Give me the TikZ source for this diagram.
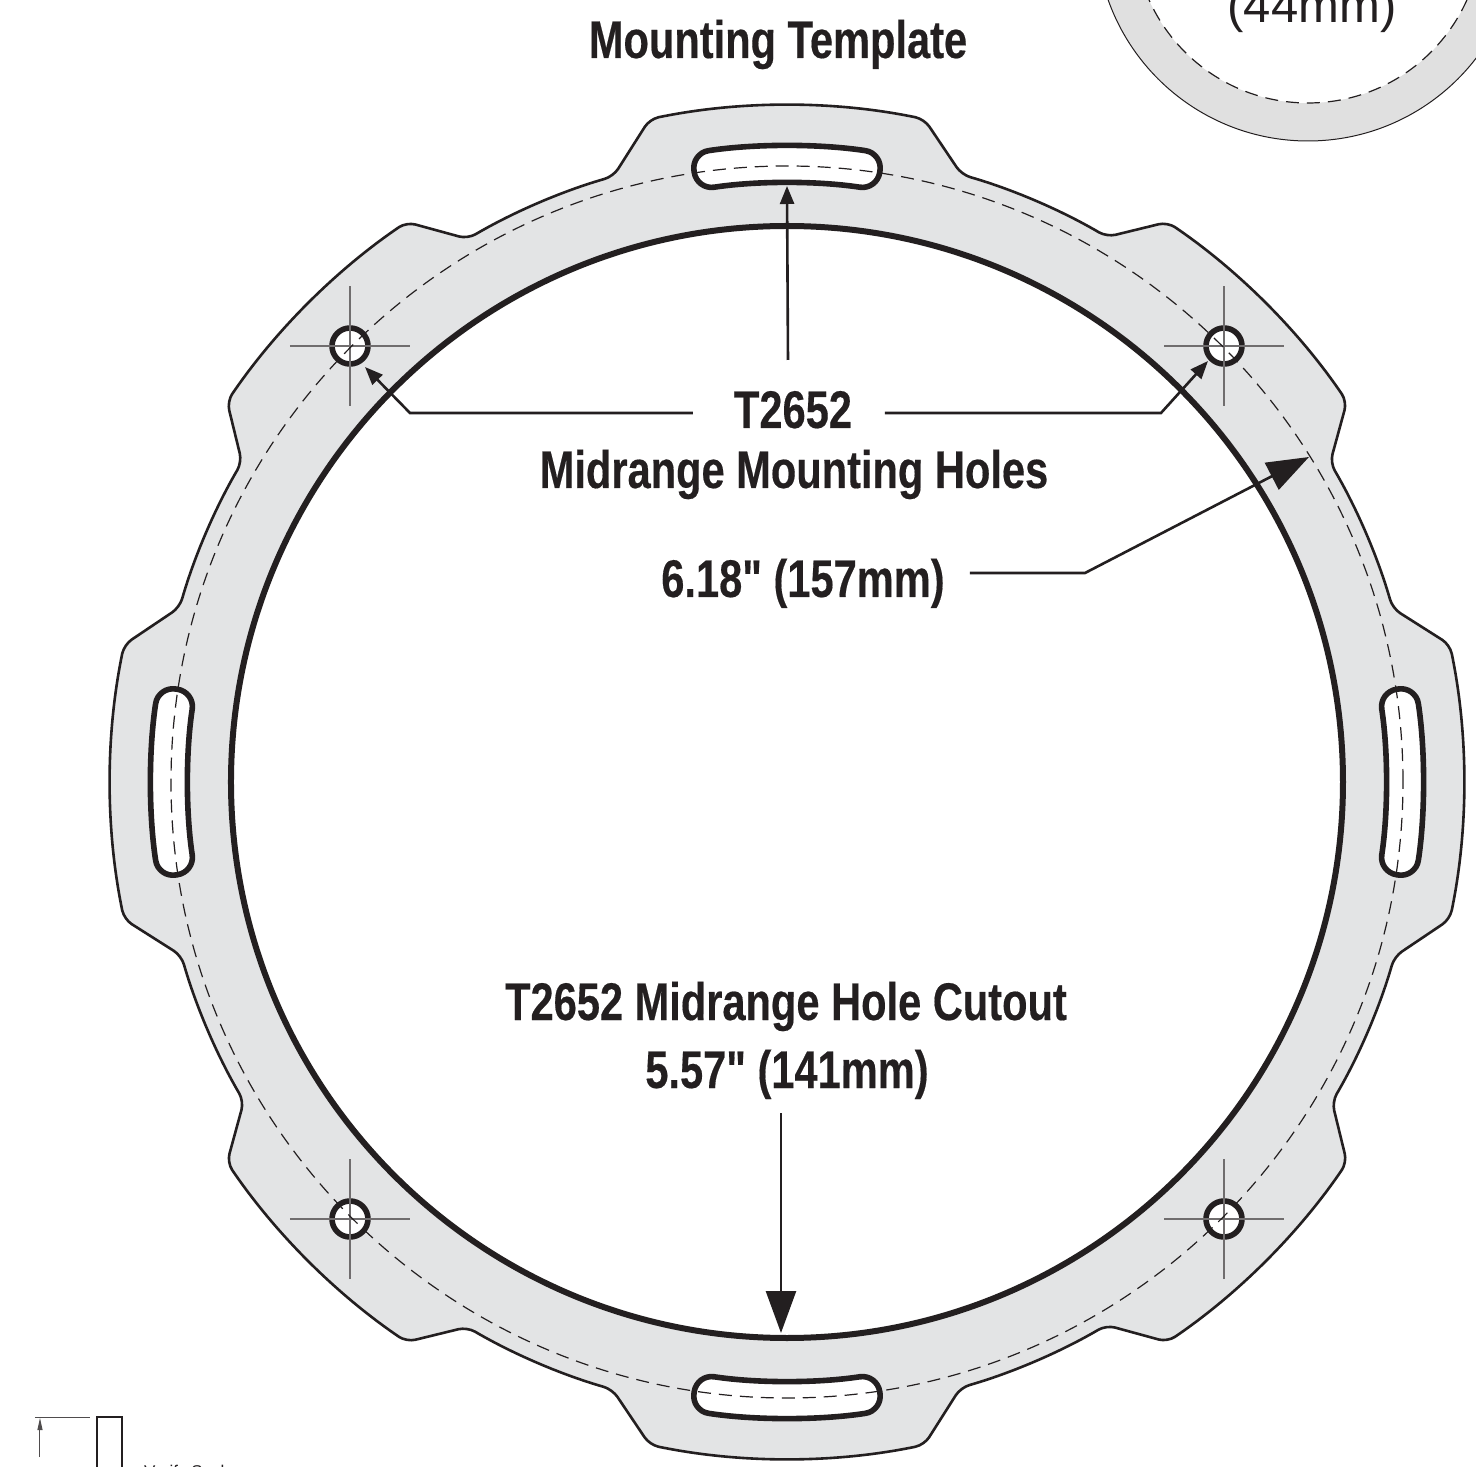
\documentclass[tikz,border=0pt]{standalone}
\usepackage{fontspec}
\setmainfont{Liberation Sans}
\newfontfamily\labfont[FakeStretch=0.785,FakeBold=0.3]{Liberation Sans Bold}
\usetikzlibrary{arrows.meta}
\definecolor{ink}{HTML}{231F20}
\definecolor{ringgray}{HTML}{E3E4E5}
\definecolor{discgray}{HTML}{E0E0E0}
\tikzset{
  x=1pt,y=1pt,
  ring/.style={fill=ringgray,draw=ink,line width=2.6pt,rounded corners=9pt},
  slot/.style={fill=white,draw=ink,line width=5.6pt,rounded corners=17.5pt},
  hole/.style={circle,fill=white,draw=ink,line width=5.6pt,minimum size=36pt,inner sep=0pt},
  cross/.style={draw=ink!65,line width=1.2pt},
  boltcircle/.style={draw=ink,line width=1.2pt,dash pattern=on 13pt off 8pt},
  lab/.style={font=\labfont\fontsize{53}{53}\selectfont,text=ink,inner sep=0pt,anchor=base},
  lead/.style={draw=ink,line width=2.6pt},
  smalltip/.style={-{Triangle[length=18pt,width=14pt]}},
  bigtip/.style={-{Triangle[length=42pt,width=30pt]}},
}
\begin{document}
\begin{tikzpicture}
% origin at the ring centre: (787,782) in reference pixels
\useasboundingbox (-787,782) rectangle (689,-685);
% disc at top right
\fill[discgray,draw=ink,line width=1pt] (521,853) circle (212);
\fill[white] (521,853) circle (174);
\draw[boltcircle] (521,853) circle (174);
\node[font=\fontsize{49}{49}\selectfont,text=ink,inner sep=0pt,anchor=base] (disclabel) at (525,759) {(44mm)};
% ring
\path[ring] (-11.7:677)
  arc (-11.7:11.7:677) -- (16:630) arc (16:30.4:632) -- (34.2:677)
  arc (34.2:55.8:677) -- (59.6:632) arc (59.6:74:630) -- (78.3:677)
  arc (78.3:101.7:677) -- (106:630) arc (106:120.4:632) -- (124.2:677)
  arc (124.2:145.8:677) -- (149.6:632) arc (149.6:164:630) -- (168.3:677)
  arc (168.3:191.7:677) -- (196:630) arc (196:210.4:632) -- (214.2:677)
  arc (214.2:235.8:677) -- (239.6:632) arc (239.6:254:630) -- (258.3:677)
  arc (258.3:281.7:677) -- (286:630) arc (286:300.4:632) -- (304.2:677)
  arc (304.2:325.8:677) -- (329.6:632) arc (329.6:344:630) -- cycle;
\path[fill=white,draw=ink,line width=6pt] (0,0) circle (556);
% slots
\foreach \a in {0,90,180,270}{
  \path[slot] (\a-8.65:636) arc (\a-8.65:\a+8.65:636) -- (\a+8.65:599) arc (\a+8.65:\a-8.65:599) -- cycle;
}
% holes
\node[hole] (h1) at (437,436) {};
\node[hole] (h2) at (-437,436) {};
\node[hole] (h3) at (-437,-437) {};
\node[hole] (h4) at (437,-437) {};
\foreach \h in {h1,h2,h3,h4}{
  \draw[cross] ([xshift=-60pt]\h.center) -- ([xshift=60pt]\h.center);
  \draw[cross] ([yshift=-60pt]\h.center) -- ([yshift=60pt]\h.center);
}
\draw[boltcircle] (0,0) circle (616);
% labels
\node[lab] (title) at (-9,724) {Mounting Template};
\node[lab] (partno) at (6,354) {T2652};
\node[lab] (holes) at (7,294) {Midrange Mounting Holes};
\node[lab] (dia) at (16,185) {6.18" (157mm)};
\node[lab] (cutout) at (-1,-238) {T2652 Midrange Hole Cutout};
\node[lab] (cutdia) at (0,-306) {5.57" (141mm)};
% connectors
\coordinate (slottip) at (0,596);
\coordinate (topstart) at (1,422);
\coordinate (lbend) at (-377,369);
\coordinate (lstart) at (-94,369);
\coordinate (ltip) at (-422,415);
\coordinate (rbend) at (374,369);
\coordinate (rstart) at (98,369);
\coordinate (rtip) at (421,421);
\coordinate (dstart) at (183,209);
\coordinate (dbend) at (298,209);
\coordinate (dtip) at (522,325);
\coordinate (cstart) at (-6,-331);
\coordinate (ctip) at (-6,-551);
\draw[lead,smalltip] (topstart) -- (slottip);
\draw[lead,smalltip] (lstart) -- (lbend) -- (ltip);
\draw[lead,smalltip] (rstart) -- (rbend) -- (rtip);
\draw[lead,bigtip] (dstart) -- (dbend) -- (dtip);
\draw[lead,bigtip] (cstart) -- (ctip);
% verify-scale mark
\coordinate (sa) at (-752,-635);
\coordinate (sb) at (-697,-635);
\coordinate (sc) at (-747,-675);
\coordinate (sd) at (-747,-636);
\draw[draw=ink!80,line width=1pt] (sa) -- (sb);
\draw[draw=ink!80,line width=1pt,-{Triangle[length=12pt,width=5pt]}] (sc) -- (sd);
\draw[draw=ink,line width=2.2pt] (-690,-635) rectangle (-665,-700);
\node[font=\fontsize{17}{17}\selectfont,text=ink,inner sep=0pt,anchor=base west] (scale) at (-643,-695) {Verify Scale};
\end{tikzpicture}
\end{document}
